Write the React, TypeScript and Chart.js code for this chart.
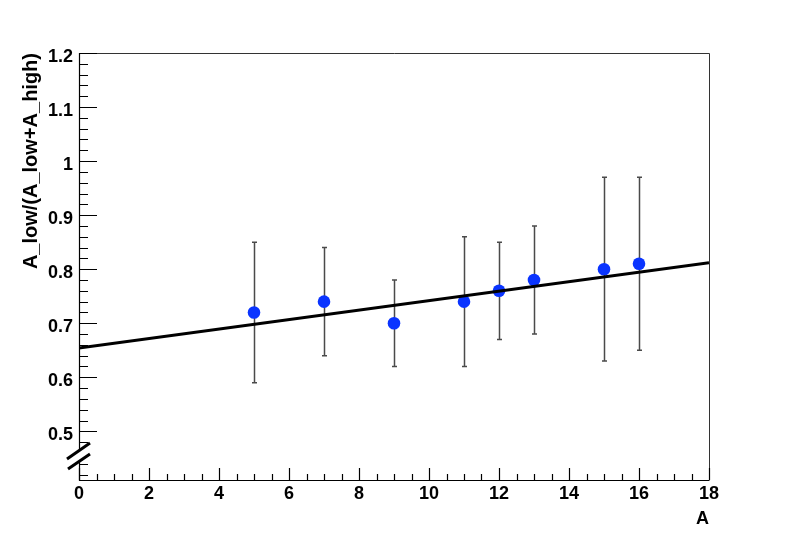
import React, { useEffect, useRef } from "react";
import { Chart, registerables } from "chart.js";

Chart.register(...registerables);

// ---- data ----
const xValues = [5, 7, 9, 11, 12, 13, 15, 16];
const yValues = [0.72, 0.74, 0.7, 0.74, 0.76, 0.78, 0.8, 0.81];
const yErrLow = [0.59, 0.64, 0.62, 0.62, 0.67, 0.68, 0.63, 0.65];
const yErrHigh = [0.85, 0.84, 0.78, 0.86, 0.85, 0.88, 0.97, 0.97];
const fitX = [0, 18];
const fitY = [0.654, 0.812];
const xMajorTicks = [0, 2, 4, 6, 8, 10, 12, 14, 16, 18];
const xTickLabels = ["0", "2", "4", "6", "8", "10", "12", "14", "16", "18"];
const yMajorTicks = [0.5, 0.6, 0.7, 0.8, 0.9, 1.0, 1.1, 1.2];
const yTickLabels = ["0.5", "0.6", "0.7", "0.8", "0.9", "1", "1.1", "1.2"];
const xTitle = "A";
const yTitle = "A_low/(A_low+A_high)";
const xMin = 0;
const xMax = 18;
const yMin = 0.41;
const yMax = 1.2;

const FONT = "'Liberation Sans', Arial, Helvetica, sans-serif";

const rootPlugin = {
  id: "rootStyle",
  beforeDatasetsDraw(chart: any) {
    const ctx = chart.ctx;
    const xs = chart.scales.x;
    const ys = chart.scales.y;
    ctx.save();
    ctx.strokeStyle = "#4a4a4a";
    ctx.lineWidth = 1.5;
    for (let i = 0; i < xValues.length; i++) {
      const px = Math.round(xs.getPixelForValue(xValues[i])) + 0.5;
      const pl = ys.getPixelForValue(yErrLow[i]);
      const ph = ys.getPixelForValue(yErrHigh[i]);
      ctx.beginPath();
      ctx.moveTo(px, pl);
      ctx.lineTo(px, ph);
      ctx.moveTo(px - 2.5, pl);
      ctx.lineTo(px + 2.5, pl);
      ctx.moveTo(px - 2.5, ph);
      ctx.lineTo(px + 2.5, ph);
      ctx.stroke();
    }
    ctx.restore();
  },
  afterDatasetsDraw(chart: any) {
    const ctx = chart.ctx;
    const xs = chart.scales.x;
    const ys = chart.scales.y;
    const a = chart.chartArea;
    ctx.save();
    // frame top/right
    ctx.strokeStyle = "#333";
    ctx.lineWidth = 1;
    ctx.beginPath();
    ctx.moveTo(a.left, a.top + 0.5);
    ctx.lineTo(a.right + 0.5, a.top + 0.5);
    ctx.lineTo(a.right + 0.5, a.bottom);
    ctx.stroke();
    // axes
    ctx.strokeStyle = "#000";
    ctx.lineWidth = 1.2;
    ctx.beginPath();
    ctx.moveTo(a.left + 0.5, a.top);
    ctx.lineTo(a.left + 0.5, a.bottom + 0.5);
    ctx.lineTo(a.right + 0.5, a.bottom + 0.5);
    ctx.stroke();

    // x ticks
    ctx.lineWidth = 1.2;
    ctx.beginPath();
    for (let v = xMin; v <= xMax + 1e-9; v += 0.5) {
      const px = Math.round(xs.getPixelForValue(v)) + 0.5;
      const major = Math.abs(v / 2 - Math.round(v / 2)) < 1e-6;
      const len = major ? 12 : 6;
      ctx.moveTo(px, a.bottom);
      ctx.lineTo(px, a.bottom - len);
    }
    // y ticks
    for (let k = 21; k <= 60; k++) {
      const v = k * 0.02;
      if (v < yMin || v > yMax + 1e-9) continue;
      const py = Math.round(ys.getPixelForValue(v)) + 0.5;
      const major = k % 5 === 0;
      const len = major ? 18 : 9;
      ctx.moveTo(a.left, py);
      ctx.lineTo(a.left + len, py);
    }
    ctx.stroke();

    // tick labels
    ctx.fillStyle = "#000";
    ctx.font = `bold 18px ${FONT}`;
    ctx.textAlign = "center";
    ctx.textBaseline = "alphabetic";
    xMajorTicks.forEach((v, i) => {
      ctx.fillText(xTickLabels[i], xs.getPixelForValue(v), 499);
    });
    ctx.textAlign = "right";
    yMajorTicks.forEach((v, i) => {
      ctx.fillText(yTickLabels[i], a.left - 6, ys.getPixelForValue(v) + 8.5);
    });

    // axis titles
    ctx.textAlign = "right";
    ctx.fillText(xTitle, a.right, 524);
    ctx.save();
    ctx.font = `bold 20px ${FONT}`;
    ctx.translate(37, a.top);
    ctx.rotate(-Math.PI / 2);
    ctx.textAlign = "right";
    ctx.textBaseline = "alphabetic";
    ctx.fillText(yTitle, 0, 0);
    ctx.restore();

    // axis break mark
    const x0 = a.left;
    ctx.fillStyle = "#fff";
    ctx.beginPath();
    ctx.moveTo(x0 - 12, 459);
    ctx.lineTo(x0 + 11, 443);
    ctx.lineTo(x0 + 11, 454);
    ctx.lineTo(x0 - 11, 469);
    ctx.closePath();
    ctx.fill();
    ctx.strokeStyle = "#000";
    ctx.lineWidth = 3;
    ctx.beginPath();
    ctx.moveTo(x0 - 12, 459);
    ctx.lineTo(x0 + 11, 443);
    ctx.moveTo(x0 - 11, 469);
    ctx.lineTo(x0 + 11, 454);
    ctx.stroke();
    ctx.restore();
  },
};

export default function App() {
  const ref = useRef<HTMLCanvasElement | null>(null);
  useEffect(() => {
    document.body.style.margin = "0";
    if (!ref.current) return;
    const chart = new Chart(ref.current, {
      type: "scatter",
      data: {
        datasets: [
          {
            type: "line",
            data: fitX.map((x, i) => ({ x, y: fitY[i] })),
            borderColor: "#000",
            borderWidth: 3,
            pointRadius: 0,
            fill: false,
            order: 0,
          } as any,
          {
            data: xValues.map((x, i) => ({ x, y: yValues[i] })),
            backgroundColor: "rgb(10,52,255)",
            borderWidth: 0,
            pointRadius: 6.3,
            order: 1,
          },
        ],
      },
      options: {
        responsive: false,
        animation: false,
        layout: { padding: { left: 79, top: 53, right: 79, bottom: 54 } },
        plugins: {
          legend: { display: false },
          tooltip: { enabled: false },
        },
        scales: {
          x: { type: "linear", min: xMin, max: xMax, display: false },
          y: { type: "linear", min: yMin, max: yMax, display: false },
        },
      },
      plugins: [rootPlugin],
    });
    return () => chart.destroy();
  }, []);
  return (
    <div style={{ width: 788, height: 534, background: "#fff" }}>
      <canvas ref={ref} width={788} height={534} />
    </div>
  );
}
